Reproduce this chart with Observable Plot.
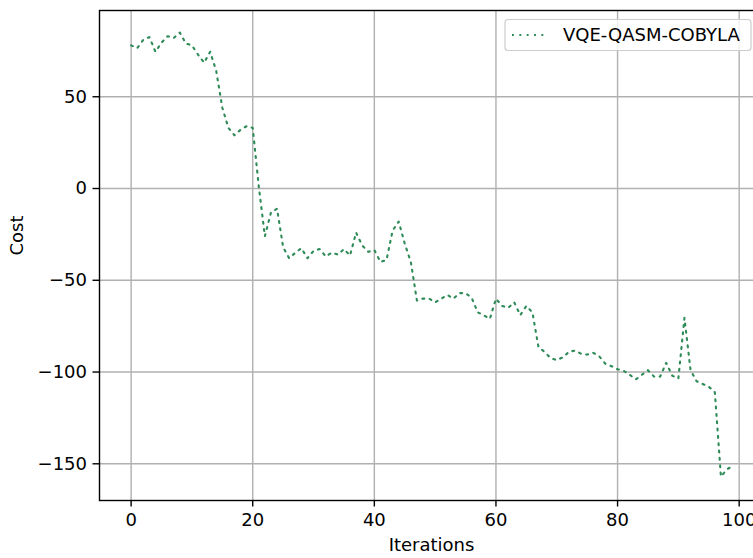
<!DOCTYPE html>
<html>
<head>
<meta charset="utf-8">
<script src="https://cdn.jsdelivr.net/npm/d3@7"></script>
<script src="https://cdn.jsdelivr.net/npm/@observablehq/plot@0.6"></script>
<style>
  html, body { margin: 0; padding: 0; background: #fff; overflow: hidden; }
  #chart svg { display: block; }
</style>
</head>
<body>
<div id="chart"></div>
<script>
// Cost of the VQE run per optimizer iteration
const costs = [
  78, 76.5, 81, 82.5, 74.5, 79.5, 83, 82, 85, 79,
  78, 73, 68.5, 74.5, 64, 44, 33, 29, 32, 34,
  33, 1, -26, -13, -11, -32, -38, -35, -32.5, -38,
  -34, -33, -37, -35, -36, -33, -36.5, -24, -31, -34.5,
  -33.5, -40, -39, -23, -18, -30, -40, -61, -60, -60,
  -62, -60, -58, -60, -57, -57, -59.5, -67.5, -69, -71,
  -60, -64, -65, -62, -69, -64, -67.5, -86.5, -89, -92.5,
  -93.5, -92, -89, -88.3, -90, -90.5, -89.5, -91.5, -95.5, -96.8,
  -98.5, -99.3, -101.5, -104, -101.5, -99, -102.5, -102.5, -95, -102,
  -103.5, -70.5, -99, -105, -106.5, -108, -111, -157, -153, -151
];
const iterations = costs.map((_, i) => i);
const xTicks = [0, 20, 40, 60, 80, 100];
const yTicks = [-150, -100, -50, 0, 50];
const seriesName = "VQE-QASM-COBYLA";
const xLabel = "Iterations";
const yLabel = "Cost";

const data = iterations.map((it, i) => ({iteration: it, cost: costs[i]}));

const green = "#2e8b57";
const gridColor = "#b0b0b0";
const lw = 1.4;
const lineWidth = 2.1;
const dash = "1.9,5.45";
const fmt = d => d < 0 ? "\u2212" + Math.abs(d) : String(d);

// legend box in the upper right corner of the axes
function legend(index, scales, values, dims) {
  const right = dims.width - dims.marginRight;
  const w = 246, h = 31;
  const x0 = right - 258, y0 = dims.marginTop + 9.5;
  const g = d3.create("svg:g");
  g.append("rect")
    .attr("x", x0).attr("y", y0).attr("width", w).attr("height", h)
    .attr("rx", 3).attr("ry", 3)
    .attr("fill", "white").attr("fill-opacity", 0.8)
    .attr("stroke", "#cccccc").attr("stroke-width", 1.2);
  g.append("line")
    .attr("x1", x0 + 7).attr("x2", x0 + 43)
    .attr("y1", y0 + h / 2).attr("y2", y0 + h / 2)
    .attr("stroke", green).attr("stroke-width", lineWidth)
    .attr("stroke-dasharray", dash);
  g.append("text")
    .attr("x", x0 + 58).attr("y", y0 + h / 2).attr("dy", "0.35em")
    .attr("text-anchor", "start")
    .attr("fill", "black")
    .text(seriesName);
  return g.node();
}

const chart = Plot.plot({
  width: 753,
  height: 558,
  marginTop: 10,
  marginRight: -10,
  marginBottom: 58,
  marginLeft: 99,
  x: {domain: [-5.2, 104]},
  y: {domain: [-170, 97]},
  style: {fontFamily: "DejaVu Sans", fontSize: "18px", background: "white", overflow: "hidden"},
  marks: [
    Plot.gridX(xTicks, {stroke: gridColor, strokeOpacity: 1, strokeWidth: lw}),
    Plot.gridY(yTicks, {stroke: gridColor, strokeOpacity: 1, strokeWidth: lw}),
    Plot.line(data, {x: "iteration", y: "cost", stroke: green, strokeWidth: lineWidth, strokeDasharray: dash}),
    Plot.frame({stroke: "black", strokeWidth: lw}),
    Plot.axisX(xTicks, {tickSize: 6.5, tickPadding: 6.5, tickFormat: fmt, strokeWidth: lw, label: null}),
    Plot.axisY(yTicks, {tickSize: 6.5, tickPadding: 6, tickFormat: fmt, strokeWidth: lw, label: null}),
    Plot.text([xLabel], {frameAnchor: "bottom", text: d => d, dy: 50}),
    Plot.text([yLabel], {frameAnchor: "left", text: d => d, dx: -82, rotate: -90}),
    legend
  ]
});
document.getElementById("chart").append(chart);
</script>
</body>
</html>
